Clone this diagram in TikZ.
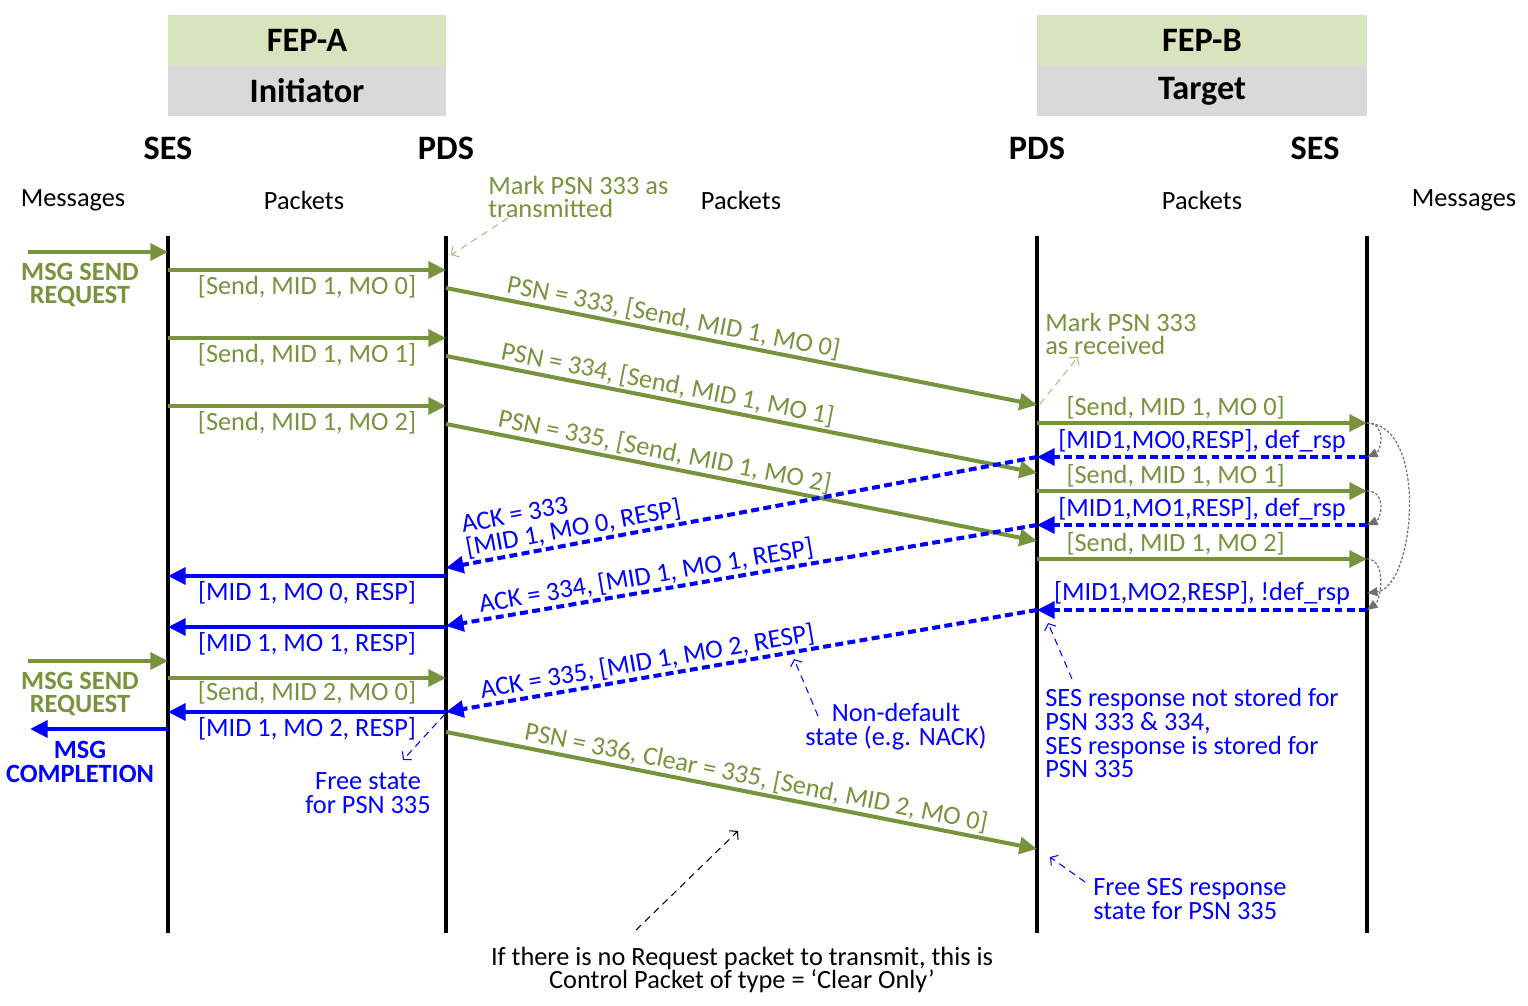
\documentclass[tikz,border=0pt]{standalone}
\usepackage{fontspec}
\setmainfont{Carlito}
\usetikzlibrary{arrows.meta}
\definecolor{fepgreen}{HTML}{77933C}
\definecolor{fepblue}{HTML}{0000FF}
\definecolor{notegreen}{HTML}{A5C07A}
\definecolor{headgreen}{HTML}{D7E4BD}
\definecolor{headgrey}{HTML}{D9D9D9}
\definecolor{echogrey}{HTML}{707070}
\newcommand{\fepfont}{\fontsize{15}{13.6}\selectfont}
\newcommand{\fephead}{\fontsize{19.5}{22}\selectfont\bfseries}
\tikzset{
    lifeline/.style={line width=2.3pt},
    sendline/.style={fepgreen, line width=2.3pt, -{Triangle[length=10pt,width=9.5pt]}},
    respline/.style={fepblue, line width=2.3pt, -{Triangle[length=10pt,width=9.5pt]}},
    ackline/.style={fepblue, line width=2.3pt, dash pattern=on 4.5pt off 2.5pt, -{Triangle[length=10pt,width=9.5pt]}},
    echo/.style={echogrey, line width=0.7pt, dash pattern=on 1.5pt off 1pt, -{Triangle[length=6pt,width=5pt]}},
    hint/.style={line width=0.6pt, dash pattern=on 4pt off 3pt, -{Straight Barb[length=3pt,width=7pt]}},
    headbox/.style={font=\fephead, minimum height=1.01cm, inner sep=0pt},
    layer/.style={font=\fephead},
    reqtext/.style={font=\fepfont\bfseries, align=center}
}

\begin{document}
\begin{tikzpicture}[x=0.02cm, y=-0.02cm, font=\fepfont]
    \useasboundingbox (0,0) rectangle (1528,1006);

    % end points
    \node [headbox, fill=headgreen, minimum width=5.56cm] (fepA) at (307,40.5) {FEP-A};
    \node [headbox, fill=headgrey, minimum width=5.56cm] (initA) at (307,91) {Initiator};
    \node [headbox, fill=headgreen, minimum width=6.6cm] (fepB) at (1202,40.5) {FEP-B};
    \node [headbox, fill=headgrey, minimum width=6.6cm] (targB) at (1202,91) {Target};

    \node [layer] (sesAname) at (168,148) {SES};
    \node [layer] (pdsAname) at (446,148) {PDS};
    \node [layer] (pdsBname) at (1037,148) {PDS};
    \node [layer] (sesBname) at (1315,148) {SES};

    \node (msgA) at (73,200) {Messages};
    \node (pktA) at (304,200) {Packets};
    \node (pktM) at (741,200) {Packets};
    \node (pktB) at (1202,200) {Packets};
    \node (msgB) at (1464,200) {Messages};

    % lifelines
    \coordinate (sesA) at (168,236);
    \coordinate (pdsA) at (446,236);
    \coordinate (pdsB) at (1037,236);
    \coordinate (sesB) at (1367,236);
    \draw [lifeline] (sesA) -- (sesA |- 0,933);
    \draw [lifeline] (pdsA) -- (pdsA |- 0,933);
    \draw [lifeline] (pdsB) -- (pdsB |- 0,933);
    \draw [lifeline] (sesB) -- (sesB |- 0,933);

    % first message
    \coordinate (inA1) at (28,252);
    \draw [sendline] (inA1) -- (inA1 -| sesA);
    \node [reqtext, fepgreen] (req1) at (80,285) {MSG SEND\\REQUEST};

    \draw [sendline] (sesA |- 0,270) -- node [below, inner sep=2pt, fepgreen] (s0) {[Send, MID 1, MO 0]} (pdsA |- 0,270);
    \draw [sendline] (sesA |- 0,338) -- node [below, inner sep=2pt, fepgreen] (s1) {[Send, MID 1, MO 1]} (pdsA |- 0,338);
    \draw [sendline] (sesA |- 0,406) -- node [below, inner sep=2pt, fepgreen] (s2) {[Send, MID 1, MO 2]} (pdsA |- 0,406);

    \draw [sendline] (pdsA |- 0,288) -- node [pos=0.38, above, sloped, inner sep=1pt, fepgreen] (p333) {PSN = 333, [Send, MID 1, MO 0]} (pdsB |- 0,405);
    \draw [sendline] (pdsA |- 0,356) -- node [pos=0.37, above, sloped, inner sep=1pt, fepgreen] (p334) {PSN = 334, [Send, MID 1, MO 1]} (pdsB |- 0,473);
    \draw [sendline] (pdsA |- 0,424) -- node [pos=0.365, above, sloped, inner sep=1pt, fepgreen] (p335) {PSN = 335, [Send, MID 1, MO 2]} (pdsB |- 0,541);

    \draw [sendline] (pdsB |- 0,423) -- node [pos=0.42, above, inner sep=1pt, fepgreen] (t0) {[Send, MID 1, MO 0]} (sesB |- 0,423);
    \draw [sendline] (pdsB |- 0,491) -- node [pos=0.42, above, inner sep=1pt, fepgreen] (t1) {[Send, MID 1, MO 1]} (sesB |- 0,491);
    \draw [sendline] (pdsB |- 0,559) -- node [pos=0.42, above, inner sep=1pt, fepgreen] (t2) {[Send, MID 1, MO 2]} (sesB |- 0,559);

    % responses
    \draw [ackline] (sesB |- 0,457) -- node [above, inner sep=1pt] (r0) {[MID1,MO0,RESP], def\_rsp} (pdsB |- 0,457);
    \draw [ackline] (sesB |- 0,525) -- node [above, inner sep=1pt] (r1) {[MID1,MO1,RESP], def\_rsp} (pdsB |- 0,525);
    \draw [ackline] (sesB |- 0,610) -- node [above, inner sep=2pt] (r2) {[MID1,MO2,RESP], !def\_rsp} (pdsB |- 0,610);

    \draw [echo] (sesB |- 0,423) .. controls +(20,0) and +(14,-6) .. (sesB |- 0,457);
    \draw [echo] (sesB |- 0,491) .. controls +(20,0) and +(14,-6) .. (sesB |- 0,525);
    \draw [echo] (sesB |- 0,559) .. controls +(20,0) and +(14,-10) .. (sesB |- 0,610);
    \draw [echo] (sesB |- 0,423) .. controls +(62,2) and +(48,-6) .. (sesB |- 0,593);

    \draw [ackline] (pdsB |- 0,457) -- node [pos=0.78, above, sloped, align=left, inner sep=1pt] (a333) {ACK = 333\\{[MID 1, MO 0, RESP]}} (pdsA |- 0,568);
    \draw [ackline] (pdsB |- 0,525) -- node [pos=0.657, above, sloped, inner sep=1pt] (a334) {ACK = 334, [MID 1, MO 1, RESP]} (pdsA |- 0,626);
    \draw [ackline] (pdsB |- 0,610) -- node [pos=0.655, above, sloped, inner sep=1pt] (a335) {ACK = 335, [MID 1, MO 2, RESP]} (pdsA |- 0,712);

    \draw [respline] (pdsA |- 0,576) -- node [below, inner sep=2pt, fepblue] (c0) {[MID 1, MO 0, RESP]} (sesA |- 0,576);
    \draw [respline] (pdsA |- 0,627) -- node [below, inner sep=2pt, fepblue] (c1) {[MID 1, MO 1, RESP]} (sesA |- 0,627);
    \draw [respline] (pdsA |- 0,712) -- node [below, inner sep=2pt, fepblue] (c2) {[MID 1, MO 2, RESP]} (sesA |- 0,712);

    % second message
    \coordinate (inA2) at (28,661);
    \draw [sendline] (inA2) -- (inA2 -| sesA);
    \node [reqtext, fepgreen] (req2) at (80,694) {MSG SEND\\REQUEST};
    \draw [sendline] (sesA |- 0,678) -- node [below, inner sep=1pt, fepgreen] (s3) {[Send, MID 2, MO 0]} (pdsA |- 0,678);

    \coordinate (outA) at (30,729);
    \draw [respline] (outA -| sesA) -- (outA);
    \node [reqtext, fepblue] (done) at (80,762) {MSG\\COMPLETION};

    \draw [sendline] (pdsA |- 0,732) -- node [pos=0.52, above, sloped, inner sep=1pt, fepgreen] (p336) {PSN = 336, Clear = 335, [Send, MID 2, MO 0]} (pdsB |- 0,849);

    % notes
    \node [fepgreen, align=left, anchor=west, inner sep=0pt] (markTx) at (488,197) {Mark PSN 333 as\\transmitted};
    \node [fepgreen, align=left, anchor=west, inner sep=0pt] (markRx) at (1045,334) {Mark PSN 333\\as received};
    \node [fepblue, align=center, inner sep=0pt] (freeA) at (368,793) {Free state\\for PSN 335};
    \node [fepblue, align=center, inner sep=0pt] (nonDef) at (896,727) {Non-default\\state (e.g. NACK)};
    \node [fepblue, align=left, anchor=west, inner sep=0pt] (stored) at (1045,733) {SES response not stored for\\PSN 333 \& 334,\\SES response is stored for\\PSN 335};
    \node [fepblue, align=left, anchor=west, inner sep=0pt] (freeB) at (1093,899) {Free SES response\\state for PSN 335};
    \node [align=center, inner sep=0pt] (clearOnly) at (742,970) {If there is no Request packet to transmit, this is\\Control Packet of type = ‘Clear Only’};

    \coordinate (txTail) at (508,218);
    \coordinate (txTip) at (451,255);
    \coordinate (rxTail) at (1040,404);
    \coordinate (rxTip) at (1078,357);
    \coordinate (freeTail) at (445,714);
    \coordinate (freeTip) at (403,760);
    \coordinate (nackTail) at (818,716);
    \coordinate (nackTip) at (794,659);
    \coordinate (storedTail) at (1072,679);
    \coordinate (storedTip) at (1048,623);
    \coordinate (freeBTail) at (1085,882);
    \coordinate (freeBTip) at (1050,857);
    \coordinate (clearTail) at (636,930);
    \coordinate (clearTip) at (738,831);

    \draw [hint, notegreen] (txTail) -- (txTip);
    \draw [hint, notegreen] (rxTail) -- (rxTip);
    \draw [hint, fepblue] (freeTail) -- (freeTip);
    \draw [hint, fepblue] (nackTail) -- (nackTip);
    \draw [hint, fepblue] (storedTail) -- (storedTip);
    \draw [hint, fepblue] (freeBTail) -- (freeBTip);
    \draw [hint, black] (clearTail) -- (clearTip);
  \end{tikzpicture}
\end{document}
